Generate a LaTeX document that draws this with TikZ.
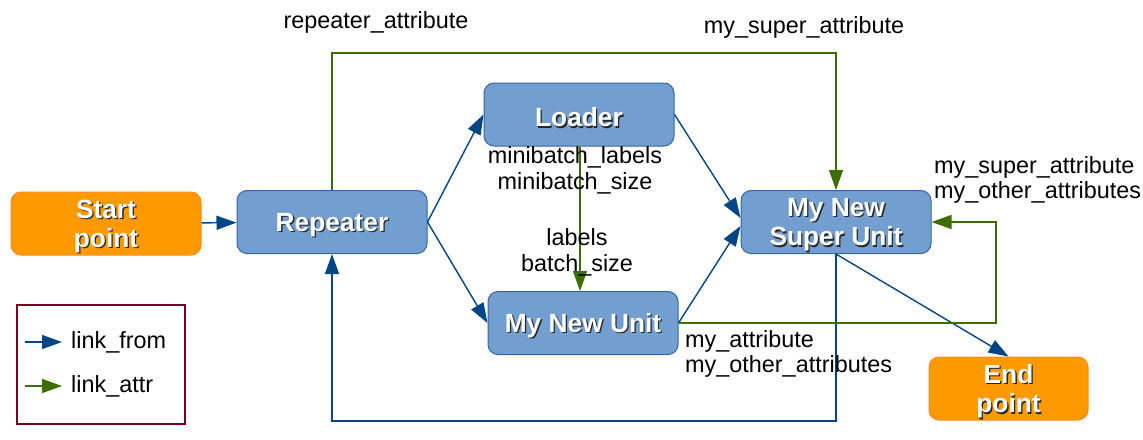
\documentclass[tikz,border=0pt]{standalone}
\usepackage{fontspec}
\setmainfont{Liberation Sans}
\usetikzlibrary{arrows.meta,calc}
\definecolor{boxblue}{HTML}{729FCF}
\definecolor{boxblueline}{HTML}{3465A4}
\definecolor{boxorange}{HTML}{FF9900}
\definecolor{boxorangeline}{HTML}{FF8A1C}
\definecolor{linkblue}{HTML}{004586}
\definecolor{linkgreen}{HTML}{3C6E00}
\definecolor{legendred}{HTML}{7E0021}
\newcommand\shd[1]{\raisebox{-3.5pt}[\height][\depth]{\rlap{\kern1.3pt\raisebox{-1.3pt}{\color{black!85}#1}}{\color{white}#1}}}
\tikzset{
 unitbox/.style={draw=boxblueline, fill=boxblue, line width=1pt, rounded corners=10pt,
   minimum width=190pt, minimum height=63pt, align=center, inner sep=0pt,
   font=\fontsize{26.3}{29.5}\selectfont\bfseries},
 termbox/.style={unitbox, draw=boxorangeline, fill=boxorange},
 lf/.style={draw=linkblue, line width=1.4pt, -{Triangle[length=20pt,width=14pt]}},
 la/.style={draw=linkgreen, line width=1.4pt, -{Triangle[length=20pt,width=14pt]}},
 lbl/.style={font=\fontsize{23.4}{25.8}\selectfont, align=center, inner sep=0pt},
}
\begin{document}
\begin{tikzpicture}[x=1pt,y=-1pt]
\useasboundingbox (0,0) rectangle (1143,439);
% boxes
\node[termbox] (start) at (106,223.5) {\shd{Start}\\\shd{point}};
\node[unitbox] (rep) at (332,222) {\shd{Repeater}};
\node[unitbox] (load) at (579,114.5) {\shd{Loader}};
\node[unitbox] (mnu) at (583,323) {\shd{My New Unit}};
\node[unitbox] (sup) at (836,222) {\shd{My New}\\\shd{Super Unit}};
\node[termbox, minimum width=159pt] (end) at (1008.5,388.5) {\shd{End}\\\shd{point}};
% link_from
\draw[lf] (start) -- (rep);
\draw[lf] (rep.east) -- (load.west);
\draw[lf] (rep.east) -- (mnu.west);
\draw[lf] (load.east) -- ($(sup.west)+(0,-4)$);
\draw[lf] (mnu.east) -- ($(sup.west)+(0,4)$);
\draw[lf] (sup.south) -- (end.north);
\draw[lf] (sup.south) -- ++(0,167) -| (rep.south);
% link_attr
\draw[la] (rep.north) -- ++(0,-137) -| (sup.north);
\draw[la] (load.south -| 580,0) -- (mnu.north -| 580,0);
\draw[la] (mnu.east) -- (996,323) |- (sup.east);
% labels
\node[lbl] (l1) at (376,22) {repeater\_attribute};
\node[lbl] (l2) at (804,27) {my\_super\_attribute};
\node[lbl] (l3) at (575,170) {minibatch\_labels\\minibatch\_size};
\node[lbl] (l4) at (577,252) {labels\\batch\_size};
\node[lbl, align=left, anchor=west] (l5) at (934,180) {my\_super\_attribute\\my\_other\_attributes};
\node[lbl, align=left, anchor=west] (l6) at (685,354) {my\_attribute\\my\_other\_attributes};
% legend
\node[draw=legendred, line width=1.5pt, minimum width=168pt, minimum height=119pt, inner sep=0pt] (leg) at (101,364.5) {};
\coordinate (fa) at (25,342); \coordinate (fb) at (62,342);
\coordinate (aa) at (25,386); \coordinate (ab) at (62,386);
\draw[lf] (fa) -- (fb);
\draw[la] (aa) -- (ab);
\node[lbl, anchor=west] (t1) at (71,342) {link\_from};
\node[lbl, anchor=west] (t2) at (71,386) {link\_attr};
\end{tikzpicture}
\end{document}
